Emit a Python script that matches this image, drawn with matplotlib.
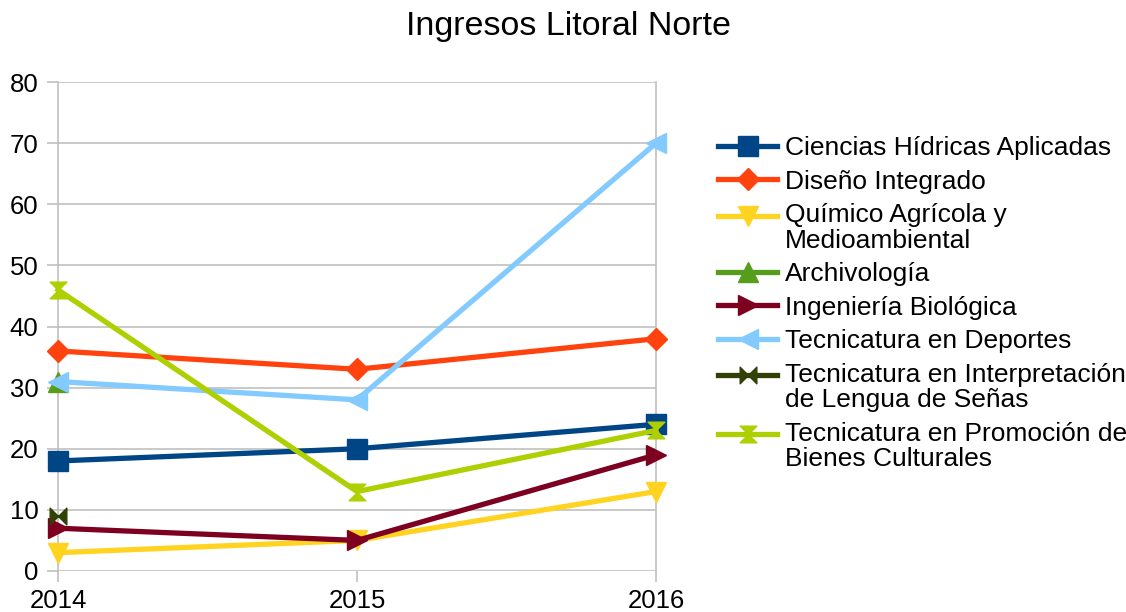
import numpy as np
import matplotlib.pyplot as plt
from matplotlib.path import Path
from matplotlib.legend_handler import HandlerLine2D

plt.rcParams['font.family'] = ['Liberation Sans', 'DejaVu Sans']

# Data
years = ['2014', '2015', '2016']
ciencias = [18, 20, 24]
diseno = [36, 33, 38]
quimico = [3, 5, 13]
archivologia = [31, np.nan, np.nan]
ingenieria = [7, 5, 19]
deportes = [31, 28, 70]
interpretacion = [9, np.nan, np.nan]
promocion = [46, 13, 23]

labels = [
    'Ciencias Hídricas Aplicadas',
    'Diseño Integrado',
    'Químico Agrícola y\nMedioambiental',
    'Archivología',
    'Ingeniería Biológica',
    'Tecnicatura en Deportes',
    'Tecnicatura en Interpretación\nde Lengua de Señas',
    'Tecnicatura en Promoción de\nBienes Culturales',
]

# custom bowtie / hourglass markers
bowtie = Path([(-1, -1), (-1, 1), (1, -1), (1, 1), (-1, -1)],
              [Path.MOVETO, Path.LINETO, Path.LINETO, Path.LINETO, Path.CLOSEPOLY])
hourglass = Path([(-1, -1), (1, -1), (-1, 1), (1, 1), (-1, -1)],
                 [Path.MOVETO, Path.LINETO, Path.LINETO, Path.LINETO, Path.CLOSEPOLY])

series = [ciencias, diseno, quimico, archivologia, ingenieria, deportes, interpretacion, promocion]
colors = ['#004586', '#ff420e', '#ffd320', '#579d1c', '#7e0021', '#83caff', '#314004', '#aecf00']
markers = ['s', 'D', 'v', '^', '>', '<', bowtie, hourglass]
msizes = [14, 11, 14, 14, 14, 14, 12, 12]


class TopHandler(HandlerLine2D):
    # put the legend line next to the first text line of a wrapped label
    def __init__(self, shift=0, **kw):
        super().__init__(**kw)
        self.shift = shift

    def create_artists(self, legend, orig_handle, xdescent, ydescent,
                       width, height, fontsize, trans):
        return super().create_artists(legend, orig_handle, xdescent,
                                      ydescent - 2 * self.shift, width, height,
                                      fontsize, trans)


fig = plt.figure(figsize=(11.26, 6.12), dpi=100)
ax = fig.add_axes([58 / 1126, 1 - 571 / 612, (656 - 58) / 1126, (571 - 82) / 612])

x = np.arange(len(years))
lines = []
for vals, lab, c, m, ms in zip(series, labels, colors, markers, msizes):
    ln, = ax.plot(x, vals, color=c, marker=m, markersize=ms, linewidth=3.8,
                  label=lab, clip_on=False, zorder=3)
    lines.append(ln)

ax.set_xlim(0, 2)
ax.set_ylim(0, 80)
ax.set_yticks(range(0, 81, 10))
ax.set_xticks(x)
ax.set_xticklabels(years)
ax.grid(True, axis='y', color='#c0c0c0', linewidth=1.2)
ax.set_axisbelow(True)
for side in ['top', 'bottom']:
    ax.spines[side].set_visible(False)
for side in ['left', 'right']:
    ax.spines[side].set_color('#c0c0c0')
    ax.spines[side].set_linewidth(1.2)
ax.tick_params(axis='both', labelsize=18.5, color='#c0c0c0', length=8, width=1.2)
ax.tick_params(axis='y', pad=6)
ax.tick_params(axis='x', pad=5)

fig.suptitle('Ingresos Litoral Norte', fontsize=24.5, y=0.982, x=0.505)

shift_pt = 9
handler_map = {ln: TopHandler(shift=shift_pt if '\n' in ln.get_label() else 0) for ln in lines}
leg = fig.legend(handles=lines, loc='upper left',
                 bbox_to_anchor=(718 / 1126, 1 - 136 / 612), bbox_transform=fig.transFigure,
                 frameon=False, fontsize=19, handlelength=2.25, handletextpad=0.3,
                 labelspacing=0.36, borderpad=0, borderaxespad=0, handler_map=handler_map)
for t in leg.get_texts():
    t.set_linespacing(1.08)

fig.savefig('out.png', dpi=100)
